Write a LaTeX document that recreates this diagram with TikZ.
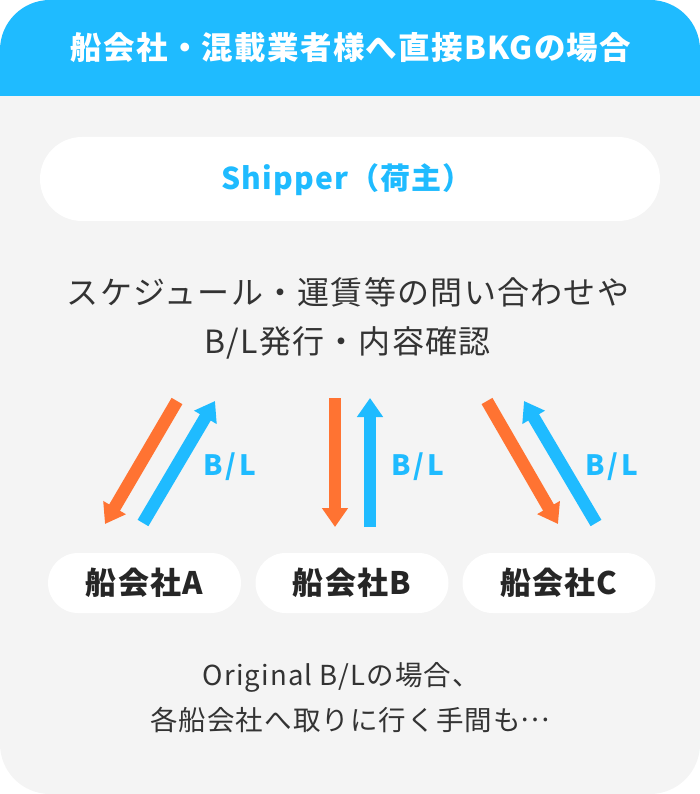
\documentclass[tikz,border=0pt]{standalone}
\usepackage{fontspec}
\setmainfont{Noto Sans CJK JP}[LetterSpace=4]
\usetikzlibrary{arrows.meta}
\definecolor{hblue}{HTML}{1FBBFF}
\definecolor{orng}{HTML}{FF7332}
\definecolor{bggray}{HTML}{F4F4F4}
\definecolor{txt}{HTML}{333333}
\tikzset{
  pill/.style={fill=white, draw=none, inner sep=0pt},
  bluearr/.style={draw=hblue, line width=12.5pt, -{Triangle[width=25pt,length=19pt]}},
  orangearr/.style={draw=orng, line width=12.5pt, -{Triangle[width=25pt,length=19pt]}},
  bllabel/.style={text=hblue, font=\fontsize{28pt}{32pt}\selectfont\addfontfeature{LetterSpace=10}\bfseries},
  company/.style={pill, minimum width=193pt, minimum height=60pt, rounded corners=30pt,
     text=black!85, font=\fontsize{31pt}{34pt}\selectfont\bfseries},
  bodytext/.style={text=txt, font=\fontsize{32pt}{36pt}\selectfont},
  notetext/.style={text=txt, font=\fontsize{27.5pt}{32pt}\selectfont}
}
\begin{document}
\begin{tikzpicture}[x=1pt,y=-1pt]
\useasboundingbox (0,0) rectangle (700,794);
\begin{scope}
  \clip[rounded corners=50pt] (0,0) rectangle (700,794);
  \fill[bggray] (0,0) rectangle (700,794);
  \fill[hblue] (0,0) rectangle (700,96);
\end{scope}
\node[text=white, font=\fontsize{31.5pt}{34pt}\selectfont\bfseries] (title) at (351,48) {船会社・混載業者様へ直接BKGの場合};
\node[pill, minimum width=620pt, minimum height=84pt, rounded corners=42pt] (shipper) at (350,179) {};
\node[text=hblue, font=\fontsize{30pt}{34pt}\selectfont\bfseries] (shiptext) at (347,180) {Shipper（荷主）};
\node[bodytext] (l1) at (348,292) {スケジュール・運賃等の問い合わせや};
\node[bodytext] (l2) at (347.5,343) {B/L発行・内容確認};
% arrows
\coordinate (a1s) at (177,401); \coordinate (a1e) at (105,524);
\coordinate (b1s) at (143,523); \coordinate (b1e) at (215,401);
\coordinate (a2s) at (335,398); \coordinate (a2e) at (335,527);
\coordinate (b2s) at (370,527); \coordinate (b2e) at (370,398);
\coordinate (a3s) at (487,401); \coordinate (a3e) at (558,524);
\coordinate (b3s) at (596,523); \coordinate (b3e) at (524,401);
\draw[orangearr] (a1s) -- (a1e);
\draw[bluearr] (b1s) -- (b1e);
\draw[orangearr] (a2s) -- (a2e);
\draw[bluearr] (b2s) -- (b2e);
\draw[orangearr] (a3s) -- (a3e);
\draw[bluearr] (b3s) -- (b3e);
\node[bllabel] (bl1) at (230,467) {B/L};
\node[bllabel] (bl2) at (418,467) {B/L};
\node[bllabel] (bl3) at (612,467) {B/L};
\node[company] (ca) at (144.5,583) {船会社A};
\node[company] (cb) at (352,583) {船会社B};
\node[company] (cc) at (559,583) {船会社C};
\node[notetext] (n1) at (341.5,677) {Original B/Lの場合、};
\node[notetext] (n2) at (350,720) {各船会社へ取りに行く手間も\raisebox{0.32em}{…}};
\end{tikzpicture}
\end{document}
